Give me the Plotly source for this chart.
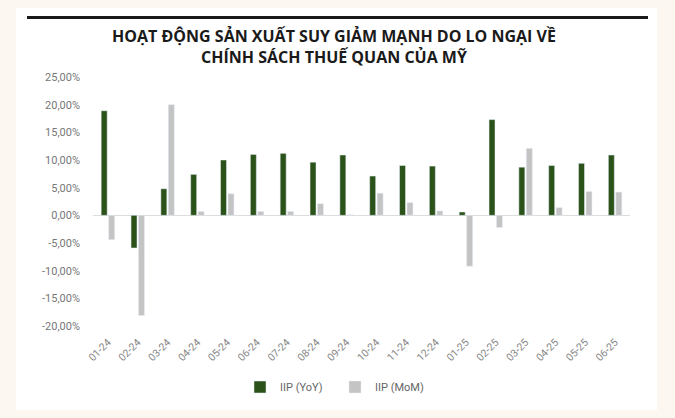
import plotly.graph_objects as go

months = ["01-24", "02-24", "03-24", "04-24", "05-24", "06-24", "07-24", "08-24", "09-24",
          "10-24", "11-24", "12-24", "01-25", "02-25", "03-25", "04-25", "05-25", "06-25"]
iip_yoy = [18.9, -5.9, 4.8, 7.4, 10.0, 11.0, 11.2, 9.6, 10.9,
           7.1, 9.0, 8.9, 0.6, 17.3, 8.7, 9.0, 9.4, 10.9]
iip_mom = [-4.4, -18.1, 20.0, 0.7, 3.9, 0.7, 0.7, 2.1, 0.1,
           4.0, 2.3, 0.8, -9.2, -2.2, 12.1, 1.4, 4.3, 4.2]

y_ticks = [-20, -15, -10, -5, 0, 5, 10, 15, 20, 25]
y_labels = ["-20,00%", "-15,00%", "-10,00%", "-5,00%", "0,00%",
            "5,00%", "10,00%", "15,00%", "20,00%", "25,00%"]

GREEN = "#2b5219"
GREY = "#c4c4c4"

# vùng vẽ: x 93..630, y 77..326 (px)
L, R, T, B = 93, 45, 77, 92
PW, PH = 675 - L - R, 418 - T - B


def px_x(x):
    return (x - L) / PW


def px_y(y):
    return (418 - B - y) / PH


fig = go.Figure()
fig.add_bar(x=months, y=iip_yoy, name="IIP (YoY)", marker_color=GREEN)
fig.add_bar(x=months, y=iip_mom, name="IIP (MoM)", marker_color=GREY)

fig.update_layout(
    width=675, height=418,
    margin=dict(l=L, r=R, t=T, b=B, autoexpand=False),
    paper_bgcolor="#fdf7f2",
    plot_bgcolor="white",
    barmode="group", bargap=0.5, bargroupgap=0.2,
    font=dict(family="Roboto", color="#777777"),
    title=dict(
        text="<b>HOẠT ĐỘNG SẢN XUẤT SUY GIẢM MẠNH DO LO NGẠI VỀ<br>CHÍNH SÁCH THUẾ QUAN CỦA MỸ</b>",
        x=px_x(334), xanchor="center", xref="paper", y=1 - 42 / 418, yanchor="top",
        font=dict(family="Open Sans", size=16, color="#1a1a1a"),
    ),
    legend=dict(
        orientation="h", x=px_x(335), xanchor="center", y=px_y(387), yanchor="middle",
        font=dict(size=11, color="#666666"), itemwidth=30,
        entrywidth=50, entrywidthmode="pixels",
        bgcolor="rgba(0,0,0,0)", traceorder="normal",
    ),
    shapes=[
        dict(type="rect", xref="paper", yref="paper", layer="below",
             x0=px_x(16), x1=px_x(657), y0=px_y(410), y1=px_y(8),
             fillcolor="white", line_width=0),
        dict(type="line", xref="paper", yref="paper",
             x0=px_x(27), x1=px_x(648), y0=px_y(17.5), y1=px_y(17.5),
             line=dict(color="#1a1a1a", width=3)),
    ],
)

fig.update_xaxes(
    tickangle=-45, tickfont=dict(size=10.5, color="#888888"),
    showgrid=False, showline=False, zeroline=False,
    ticks="outside", ticklen=0, ticklabelstandoff=5,
)
fig.update_yaxes(
    range=[-20, 25], tickvals=y_ticks, ticktext=y_labels,
    tickfont=dict(size=11, color="#777777"),
    showgrid=False, zeroline=True, zerolinecolor="#dddddd", zerolinewidth=1,
    showline=False, ticklabelstandoff=12,
)

# bỏ lề mặc định 8px của trang
fig.write_html("out.html", config={"displayModeBar": False},
               post_script="document.body.style.margin='0';")
